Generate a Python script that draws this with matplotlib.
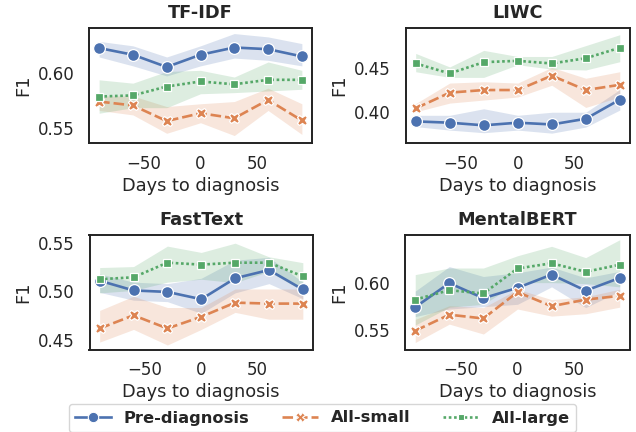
import matplotlib
matplotlib.use("Agg")
import matplotlib.pyplot as plt
import numpy as np
from matplotlib.lines import Line2D

days = [-90, -60, -30, 0, 30, 60, 90]
series_names = ["Pre-diagnosis", "All-small", "All-large"]
panel_titles = ["TF-IDF", "LIWC", "FastText", "MentalBERT"]

# TF-IDF
tfidf_pre = [0.622, 0.616, 0.605, 0.616, 0.6225, 0.621, 0.6145]
tfidf_pre_lo = [0.614, 0.606, 0.597, 0.606, 0.613, 0.611, 0.606]
tfidf_pre_hi = [0.628, 0.624, 0.614, 0.624, 0.635, 0.632, 0.626]
tfidf_small = [0.574, 0.5705, 0.5565, 0.5635, 0.559, 0.5755, 0.557]
tfidf_small_lo = [0.566, 0.562, 0.5455, 0.555, 0.5435, 0.566, 0.5445]
tfidf_small_hi = [0.579, 0.579, 0.5695, 0.572, 0.574, 0.586, 0.572]
tfidf_large = [0.5785, 0.5795, 0.5875, 0.592, 0.5895, 0.5935, 0.5935]
tfidf_large_lo = [0.5635, 0.5685, 0.5685, 0.581, 0.582, 0.5835, 0.585]
tfidf_large_hi = [0.5935, 0.5905, 0.601, 0.602, 0.596, 0.6095, 0.602]

# LIWC
liwc_pre = [0.389, 0.3875, 0.3845, 0.3875, 0.3855, 0.392, 0.414]
liwc_pre_lo = [0.383, 0.379, 0.376, 0.379, 0.3755, 0.3825, 0.402]
liwc_pre_hi = [0.396, 0.396, 0.4035, 0.396, 0.3995, 0.3995, 0.4255]
liwc_small = [0.404, 0.422, 0.425, 0.425, 0.4415, 0.425, 0.431]
liwc_small_lo = [0.4, 0.41, 0.4135, 0.417, 0.4305, 0.405, 0.417]
liwc_small_hi = [0.4095, 0.433, 0.4345, 0.433, 0.451, 0.4385, 0.446]
liwc_large = [0.4555, 0.444, 0.457, 0.4585, 0.4555, 0.4615, 0.4735]
liwc_large_lo = [0.446, 0.4395, 0.4395, 0.454, 0.449, 0.448, 0.4575]
liwc_large_hi = [0.467, 0.4515, 0.4705, 0.4635, 0.4635, 0.476, 0.4885]

# FastText
ft_pre = [0.511, 0.501, 0.4995, 0.492, 0.5135, 0.522, 0.502]
ft_pre_lo = [0.499, 0.491, 0.4895, 0.4775, 0.4985, 0.508, 0.4925]
ft_pre_hi = [0.518, 0.5095, 0.508, 0.5135, 0.532, 0.535, 0.5095]
ft_small = [0.462, 0.4755, 0.462, 0.474, 0.4885, 0.4875, 0.4875]
ft_small_lo = [0.448, 0.461, 0.445, 0.461, 0.4785, 0.4715, 0.4715]
ft_small_hi = [0.4805, 0.495, 0.4835, 0.4835, 0.5025, 0.5025, 0.5025]
ft_large = [0.5125, 0.5145, 0.5295, 0.5275, 0.5295, 0.5295, 0.5155]
ft_large_lo = [0.4985, 0.501, 0.5095, 0.5125, 0.509, 0.5205, 0.5005]
ft_large_hi = [0.5245, 0.5255, 0.5465, 0.54, 0.5495, 0.5355, 0.5295]

# MentalBERT
mb_pre = [0.5745, 0.6, 0.584, 0.595, 0.609, 0.592, 0.6055]
mb_pre_lo = [0.5645, 0.5725, 0.575, 0.5775, 0.596, 0.574, 0.5915]
mb_pre_hi = [0.5915, 0.6175, 0.607, 0.611, 0.617, 0.6055, 0.6125]
mb_small = [0.5495, 0.5665, 0.5625, 0.5905, 0.5755, 0.5825, 0.5865]
mb_small_lo = [0.537, 0.5565, 0.546, 0.5725, 0.565, 0.5675, 0.5745]
mb_small_hi = [0.5615, 0.576, 0.574, 0.5935, 0.5825, 0.5855, 0.5935]
mb_large = [0.5825, 0.5925, 0.589, 0.6155, 0.621, 0.612, 0.6195]
mb_large_lo = [0.5555, 0.5745, 0.5775, 0.6005, 0.6005, 0.5995, 0.596]
mb_large_hi = [0.609, 0.616, 0.616, 0.629, 0.639, 0.627, 0.646]

panels = [
    [(tfidf_pre, tfidf_pre_lo, tfidf_pre_hi), (tfidf_small, tfidf_small_lo, tfidf_small_hi), (tfidf_large, tfidf_large_lo, tfidf_large_hi)],
    [(liwc_pre, liwc_pre_lo, liwc_pre_hi), (liwc_small, liwc_small_lo, liwc_small_hi), (liwc_large, liwc_large_lo, liwc_large_hi)],
    [(ft_pre, ft_pre_lo, ft_pre_hi), (ft_small, ft_small_lo, ft_small_hi), (ft_large, ft_large_lo, ft_large_hi)],
    [(mb_pre, mb_pre_lo, mb_pre_hi), (mb_small, mb_small_lo, mb_small_hi), (mb_large, mb_large_lo, mb_large_hi)],
]
ylims = [(0.5368, 0.640), (0.3642, 0.4962), (0.4404, 0.5579), (0.5296, 0.651)]
yticks = [[0.55, 0.60], [0.40, 0.45], [0.45, 0.50, 0.55], [0.55, 0.60]]

colors = ["#4C72B0", "#DD8452", "#55A868"]
markers = ["o", "X", "s"]
dashes = [(None, None), (4, 1.5), (1, 1)]
msizes = [8.5, 7.5, 6.0]

plt.rcParams['font.family'] = ['DejaVu Sans']
fig = plt.figure(figsize=(6.36, 4.32), dpi=100)

W, H = 636.0, 432.0
boxes = [(89, 28, 312, 143), (405.5, 28, 630, 143), (89.5, 235, 313, 349.5), (405, 235, 630, 349.5)]
text_c = "#262626"
for i, (x0, y0, x1, y1) in enumerate(boxes):
    ax = fig.add_axes([x0 / W, 1 - y1 / H, (x1 - x0) / W, (y1 - y0) / H])
    for j, (m, lo, hi) in enumerate(panels[i]):
        ax.fill_between(days, lo, hi, color=colors[j], alpha=0.2, linewidth=0)
        ln, = ax.plot(days, m, color=colors[j], marker=markers[j], markersize=msizes[j],
                      markeredgecolor="white", markeredgewidth=0.9, linewidth=1.9)
        if j > 0:
            ln.set_dashes(dashes[j])
    ax.set_xlim(-99, 99)
    ax.set_ylim(*ylims[i])
    ax.set_xticks([-50, 0, 50])
    ax.set_xticklabels(["\u221250", "0", "50"])
    ax.set_yticks(yticks[i])
    ax.set_yticklabels([f"{v:.2f}" for v in yticks[i]])
    ax.tick_params(axis="both", length=0, labelsize=12, labelcolor=text_c)
    ax.tick_params(axis="x", pad=8.5)
    ax.tick_params(axis="y", pad=10.5)
    for s in ax.spines.values():
        s.set_color("#222222")
        s.set_linewidth(1.4)
    ax.set_title(panel_titles[i], fontsize=12.8, fontweight="bold", color=text_c, pad=7)
    ax.set_xlabel("Days to diagnosis", fontsize=12.8, color=text_c, labelpad=3)
    ax.set_ylabel("F1", fontsize=12.8, color=text_c, labelpad=4)

handles = []
for j in range(3):
    h = Line2D([0], [0], color=colors[j], marker=markers[j], markersize=msizes[j] - 1,
               markeredgecolor="white", markeredgewidth=0.8, linewidth=1.9)
    if j > 0:
        h.set_dashes(dashes[j])
    handles.append(h)
leg = fig.legend(handles, series_names, loc="upper center", bbox_to_anchor=(322.5 / W, 1 - 404 / H),
                 ncol=3, frameon=True, prop={"weight": "bold", "size": 11.7},
                 handlelength=2.2, columnspacing=2.0, borderpad=0.4, handletextpad=0.8,
                 borderaxespad=0.0)
for t in leg.get_texts():
    t.set_color(text_c)
leg.get_frame().set_edgecolor("#cccccc")
leg.get_frame().set_linewidth(1.0)

fig.savefig("out.png", dpi=100)
